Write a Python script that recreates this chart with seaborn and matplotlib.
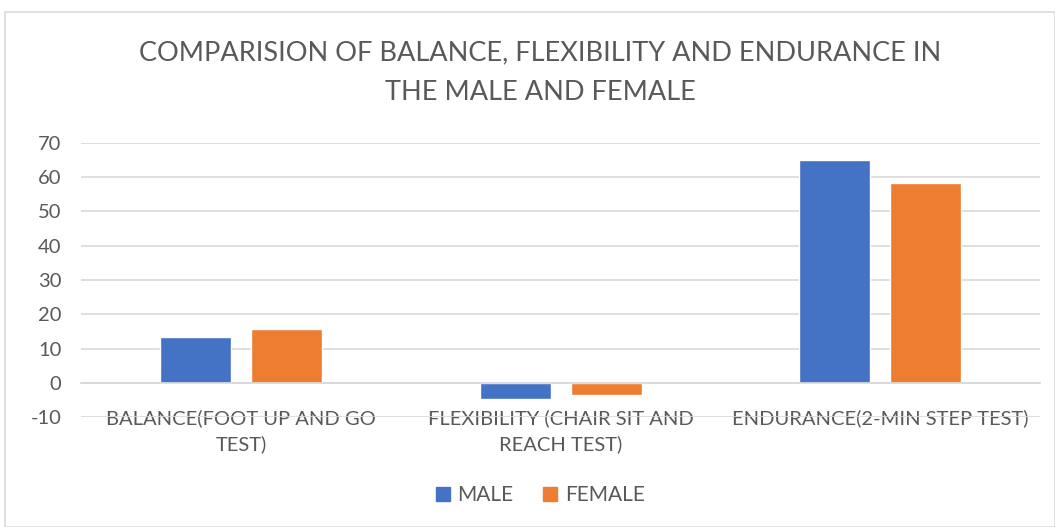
import matplotlib
matplotlib.use("Agg")
import matplotlib.pyplot as plt
import seaborn as sns
import pandas as pd
from matplotlib.patches import Rectangle

categories = ["BALANCE(FOOT UP AND GO\nTEST)",
              "FLEXIBILITY (CHAIR SIT AND\nREACH TEST)",
              "ENDURANCE(2-MIN STEP TEST)"]
series = ["MALE", "FEMALE"]
male = [13.3, -4.7, 65.1]
female = [15.7, -3.6, 58.2]
yticks = [-10, 0, 10, 20, 30, 40, 50, 60, 70]
title = "COMPARISION OF BALANCE, FLEXIBILITY AND ENDURANCE IN\nTHE MALE AND FEMALE"

df = pd.DataFrame({
    "category": categories * 2,
    "series": [series[0]] * 3 + [series[1]] * 3,
    "value": male + female,
})

sns.set_theme(style="white")
plt.rcParams['font.family'] = ['Lato', 'DejaVu Sans']

fig = plt.figure(figsize=(10.55, 5.27), dpi=100)
ax = fig.add_axes([0.0768, 0.2087, 0.9092, 0.52])

colors = ["#4472C4", "#ED7D31"]
sns.barplot(data=df, x="category", y="value", hue="series", order=categories,
            hue_order=series, palette=colors, width=0.57, gap=0.22,
            saturation=1, ax=ax, legend=False)

ax.set_ylim(-10, 70)
ax.set_yticks(yticks)
ax.set_yticklabels([str(t) for t in yticks], fontsize=14.5, color="#595959")
ax.set_xlim(-0.5, 2.5)
ax.grid(axis="y", color="#D9D9D9", linewidth=1.2)
ax.set_axisbelow(True)
for s in ["top", "right", "left"]:
    ax.spines[s].set_visible(False)
ax.spines["bottom"].set_position(("data", 0))
ax.spines["bottom"].set_color("#D9D9D9")
ax.tick_params(axis="both", length=0)
ax.tick_params(axis="x", pad=19)
ax.tick_params(axis="y", pad=14)
ax.set_xlabel("")
ax.set_ylabel("")
for lbl in ax.get_xticklabels():
    lbl.set_fontsize(14.5)
    lbl.set_color("#595959")
    lbl.set_linespacing(1.55)

fig.text(0.512, 0.862, title, ha="center", va="center", fontsize=19.5,
         color="#595959", linespacing=1.7)

handles = [Rectangle((0, 0), 1, 1, color=c) for c in colors]
fig.legend(handles, series, loc="center", bbox_to_anchor=(0.512, 0.0600),
           ncol=2, frameon=False, fontsize=15, labelcolor="#595959",
           handlelength=0.7, handleheight=0.7, handletextpad=0.35,
           columnspacing=1.4)

border = Rectangle((0.005, 0.0), 0.995, 0.977, transform=fig.transFigure,
                   fill=False, edgecolor="#D9D9D9", linewidth=1.2)
fig.patches.append(border)

fig.savefig("out.png", dpi=100)
